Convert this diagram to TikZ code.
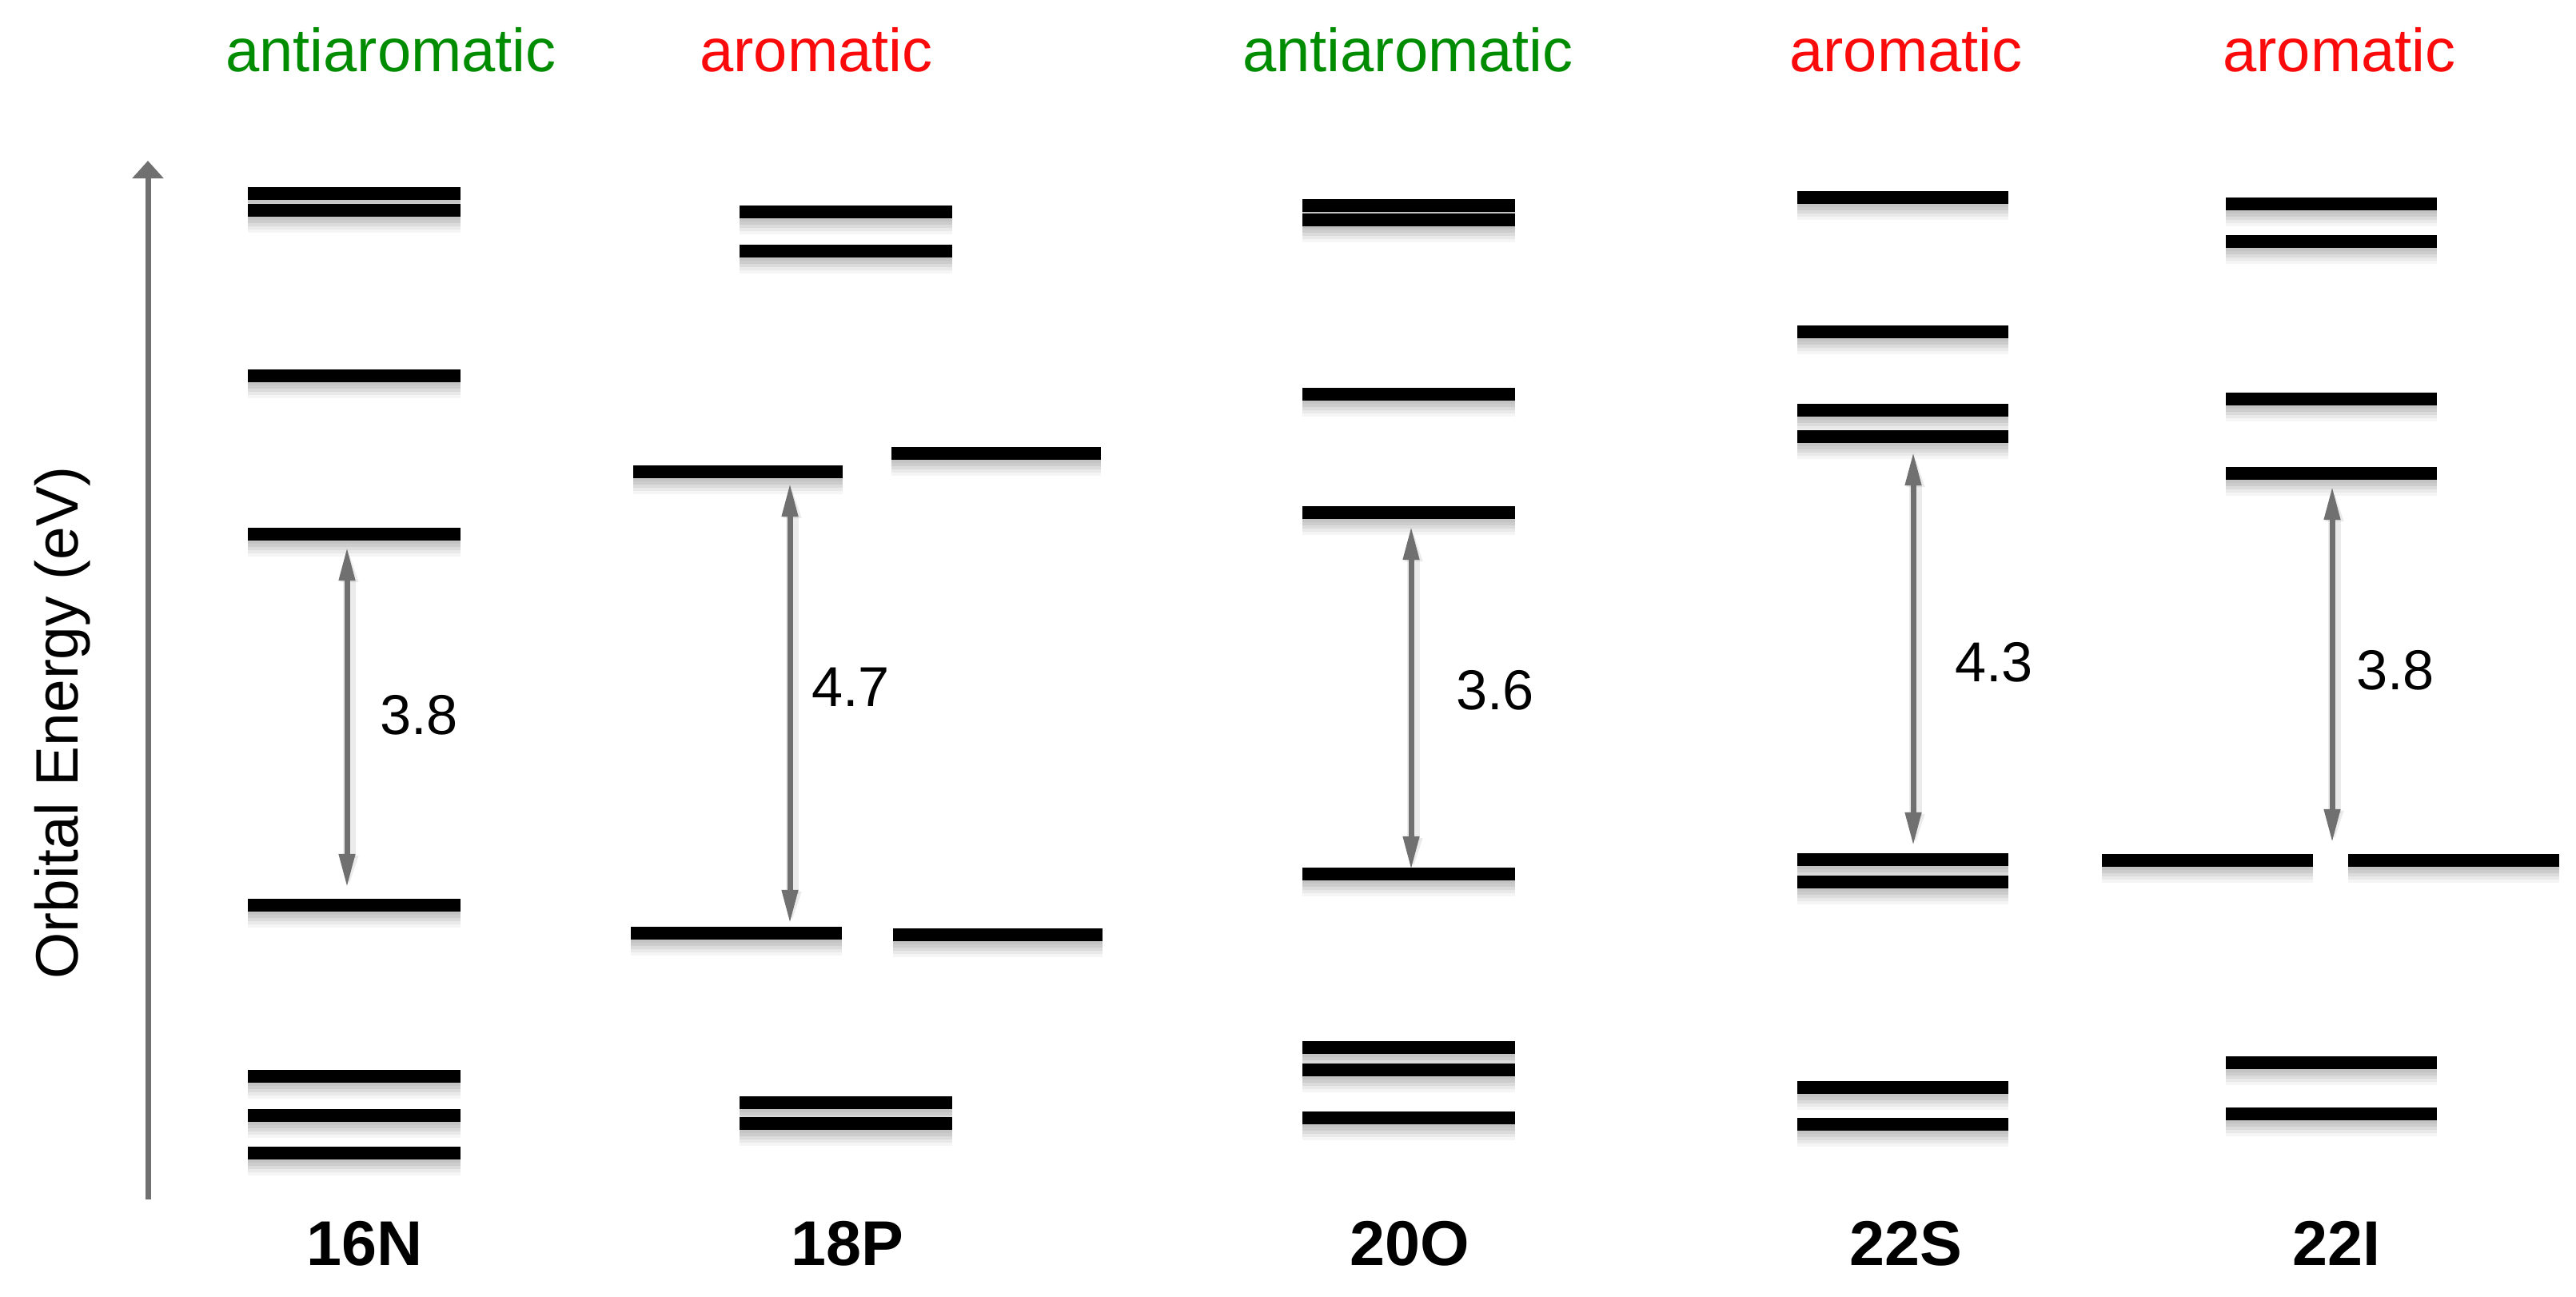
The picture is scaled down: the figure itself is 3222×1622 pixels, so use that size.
\documentclass[tikz,border=0pt]{standalone}
\usepackage{fontspec}
\setmainfont{Liberation Sans}
\usetikzlibrary{arrows.meta,calc}
\definecolor{agreen}{RGB}{0,140,0}
\definecolor{ared}{RGB}{250,10,10}
\definecolor{agray}{RGB}{112,112,112}
\begin{document}
\begin{tikzpicture}[x=0.01cm,y=-0.01cm,
  lvl/.style={rectangle, fill=black, inner sep=0pt, outer sep=0pt,
    minimum height=0.16cm, minimum width=#1,
    preaction={fill=black,opacity=0.07,transform canvas={yshift=-0.04cm}},
    preaction={fill=black,opacity=0.07,transform canvas={yshift=-0.08cm}},
    preaction={fill=black,opacity=0.06,transform canvas={yshift=-0.12cm}},
    preaction={fill=black,opacity=0.05,transform canvas={yshift=-0.16cm}},
    preaction={fill=black,opacity=0.04,transform canvas={yshift=-0.20cm}}},
  lvl/.default=2.65cm,
  gaparrow/.style={draw=agray, line width=0.07cm,
    {Triangle[length=0.42cm,width=0.19cm]}-{Triangle[length=0.42cm,width=0.19cm]},
    preaction={draw=black, opacity=0.08, line width=0.16cm, transform canvas={xshift=0.03cm,yshift=-0.02cm}}},
  axisarrow/.style={draw=agray, line width=0.07cm, -{Triangle[length=0.22cm,width=0.38cm]}},
  titletext/.style={font=\fontsize{21.6}{25}\selectfont},
  gaptext/.style={font=\fontsize{20}{24}\selectfont},
  moltext/.style={font=\fontsize{22.5}{26}\selectfont\bfseries},
  axistext/.style={font=\fontsize{21.3}{25}\selectfont, rotate=90}]
\useasboundingbox (0,0) rectangle (3222,1622);

% titles
\node[titletext, text=agreen] (t1) at (489,62) {antiaromatic};
\node[titletext, text=ared] (t2) at (1021,62) {aromatic};
\node[titletext, text=agreen] (t3) at (1761,62) {antiaromatic};
\node[titletext, text=ared] (t4) at (2384,62) {aromatic};
\node[titletext, text=ared] (t5) at (2926,62) {aromatic};

% molecule labels
\node[moltext] (m1) at (456,1555) {16N};
\node[moltext] (m2) at (1060,1555) {18P};
\node[moltext] (m3) at (1763,1555) {20O};
\node[moltext] (m4) at (2384,1555) {22S};
\node[moltext] (m5) at (2922,1555) {22I};

% axis
\coordinate (ax0) at (185,1500);
\coordinate (ax1) at (185,201);
\draw[axisarrow] (ax0) -- (ax1);
\node[axistext] (axl) at (78,904) {Orbital Energy (eV)};

% column 1: 16N
\node[lvl] (l1a) at (443,242) {};
\node[lvl] (l1b) at (443,263) {};
\node[lvl] (l1c) at (443,470) {};
\node[lvl] (l1d) at (443,668) {};
\node[lvl] (l1e) at (443,1132) {};
\node[lvl] (l1f) at (443,1346) {};
\node[lvl] (l1g) at (443,1395) {};
\node[lvl] (l1h) at (443,1442) {};

% column 2: 18P
\node[lvl] (l2a) at (1058,265) {};
\node[lvl] (l2b) at (1058,314) {};
\node[lvl=2.61cm] (l2c) at (923,590) {};
\node[lvl=2.61cm] (l2d) at (1246,567) {};
\node[lvl=2.63cm] (l2e) at (921,1167) {};
\node[lvl=2.61cm] (l2f) at (1248,1169) {};
\node[lvl] (l2g) at (1058,1379) {};
\node[lvl] (l2h) at (1058,1405) {};

% column 3: 20O
\node[lvl] (l3a) at (1762,257) {};
\node[lvl] (l3b) at (1762,275) {};
\node[lvl] (l3c) at (1762,493) {};
\node[lvl] (l3d) at (1762,641) {};
\node[lvl] (l3e) at (1762,1093) {};
\node[lvl] (l3f) at (1762,1310) {};
\node[lvl] (l3g) at (1762,1338) {};
\node[lvl] (l3h) at (1762,1398) {};

% column 4: 22S
\node[lvl=2.63cm] (l4a) at (2380,247) {};
\node[lvl=2.63cm] (l4b) at (2380,415) {};
\node[lvl=2.63cm] (l4c) at (2380,513) {};
\node[lvl=2.63cm] (l4d) at (2380,546) {};
\node[lvl=2.63cm] (l4e) at (2380,1075) {};
\node[lvl=2.63cm] (l4f) at (2380,1103) {};
\node[lvl=2.63cm] (l4g) at (2380,1360) {};
\node[lvl=2.63cm] (l4h) at (2380,1406) {};

% column 5: 22I
\node[lvl=2.63cm] (l5a) at (2916,255) {};
\node[lvl=2.63cm] (l5b) at (2916,302) {};
\node[lvl=2.63cm] (l5c) at (2916,499) {};
\node[lvl=2.63cm] (l5d) at (2916,592) {};
\node[lvl=2.63cm] (l5e) at (2761,1076) {};
\node[lvl=2.63cm] (l5f) at (3069,1076) {};
\node[lvl=2.63cm] (l5g) at (2916,1329) {};
\node[lvl=2.63cm] (l5h) at (2916,1393) {};
\coordinate (l5mid) at ($(l5e.north east)!0.5!(l5f.north west)$);

% gap arrows
\draw[gaparrow] ($(l1d.south)+(-9,8)$) -- ($(l1e.north)+(-9,-14)$);
\draw[gaparrow] ($(l2c.south)+(65,6)$) -- ($(l2e.north)+(67,-4)$);
\draw[gaparrow] ($(l3d.south)+(3,9)$) -- ($(l3e.north)+(3,3)$);
\draw[gaparrow] ($(l4d.south)+(13,11)$) -- ($(l4e.north)+(13,-9)$);
\draw[gaparrow] ($(l5d.south)+(1,8)$) -- ($(l5mid)+(2,-14)$);

% gap values
\node[gaptext] (g1) at (524,894) {3.8};
\node[gaptext] (g2) at (1064,859) {4.7};
\node[gaptext] (g3) at (1870,863) {3.6};
\node[gaptext] (g4) at (2494,828) {4.3};
\node[gaptext] (g5) at (2996,838) {3.8};
\end{tikzpicture}
\end{document}
